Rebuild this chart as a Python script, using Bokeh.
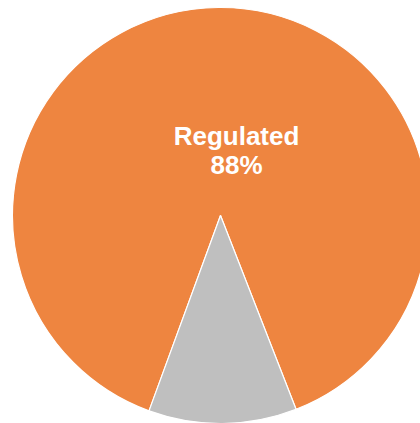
import math
from bokeh.plotting import figure
from bokeh.models import ColumnDataSource
from bokeh.core.properties import value
from bokeh.embed import file_html
from bokeh.resources import INLINE

categories = ["Regulated", "Other"]
shares = [88.5, 11.5]
colors = ["#EE8540", "#BFBFBF"]
label_name = ["Regulated"]
label_pct = ["88%"]

W, H = 420, 423
cx, cy, r = 220, 208, 208
start_deg = 291.3

total = sum(shares)
starts, ends = [], []
a = math.radians(start_deg)
for v in shares:
    starts.append(a)
    a += 2 * math.pi * v / total
    ends.append(a)

src = ColumnDataSource(dict(cat=categories, v=shares, color=colors,
                            start=starts, end=ends,
                            x=[cx] * len(shares), y=[cy] * len(shares)))

p = figure(width=W, height=H, x_range=(0, W), y_range=(0, H),
           output_backend="svg", toolbar_location=None, min_border=0)
p.axis.visible = False
p.grid.visible = False
p.outline_line_color = None
p.background_fill_color = "white"

p.wedge(x="x", y="y", radius=r, start_angle="start", end_angle="end",
        fill_color="color", line_color="white", line_width=1.2, source=src)

p.text(x=[236], y=[288], text=label_name, text_font=value("Liberation Sans"),
       text_font_style="bold", text_font_size="26px", text_color="white",
       text_align="center", text_baseline="alphabetic")
p.text(x=[236], y=[259], text=label_pct, text_font=value("Liberation Sans"),
       text_font_style="bold", text_font_size="26px", text_color="white",
       text_align="center", text_baseline="alphabetic")

open("out.html", "w").write(file_html(p, INLINE))
